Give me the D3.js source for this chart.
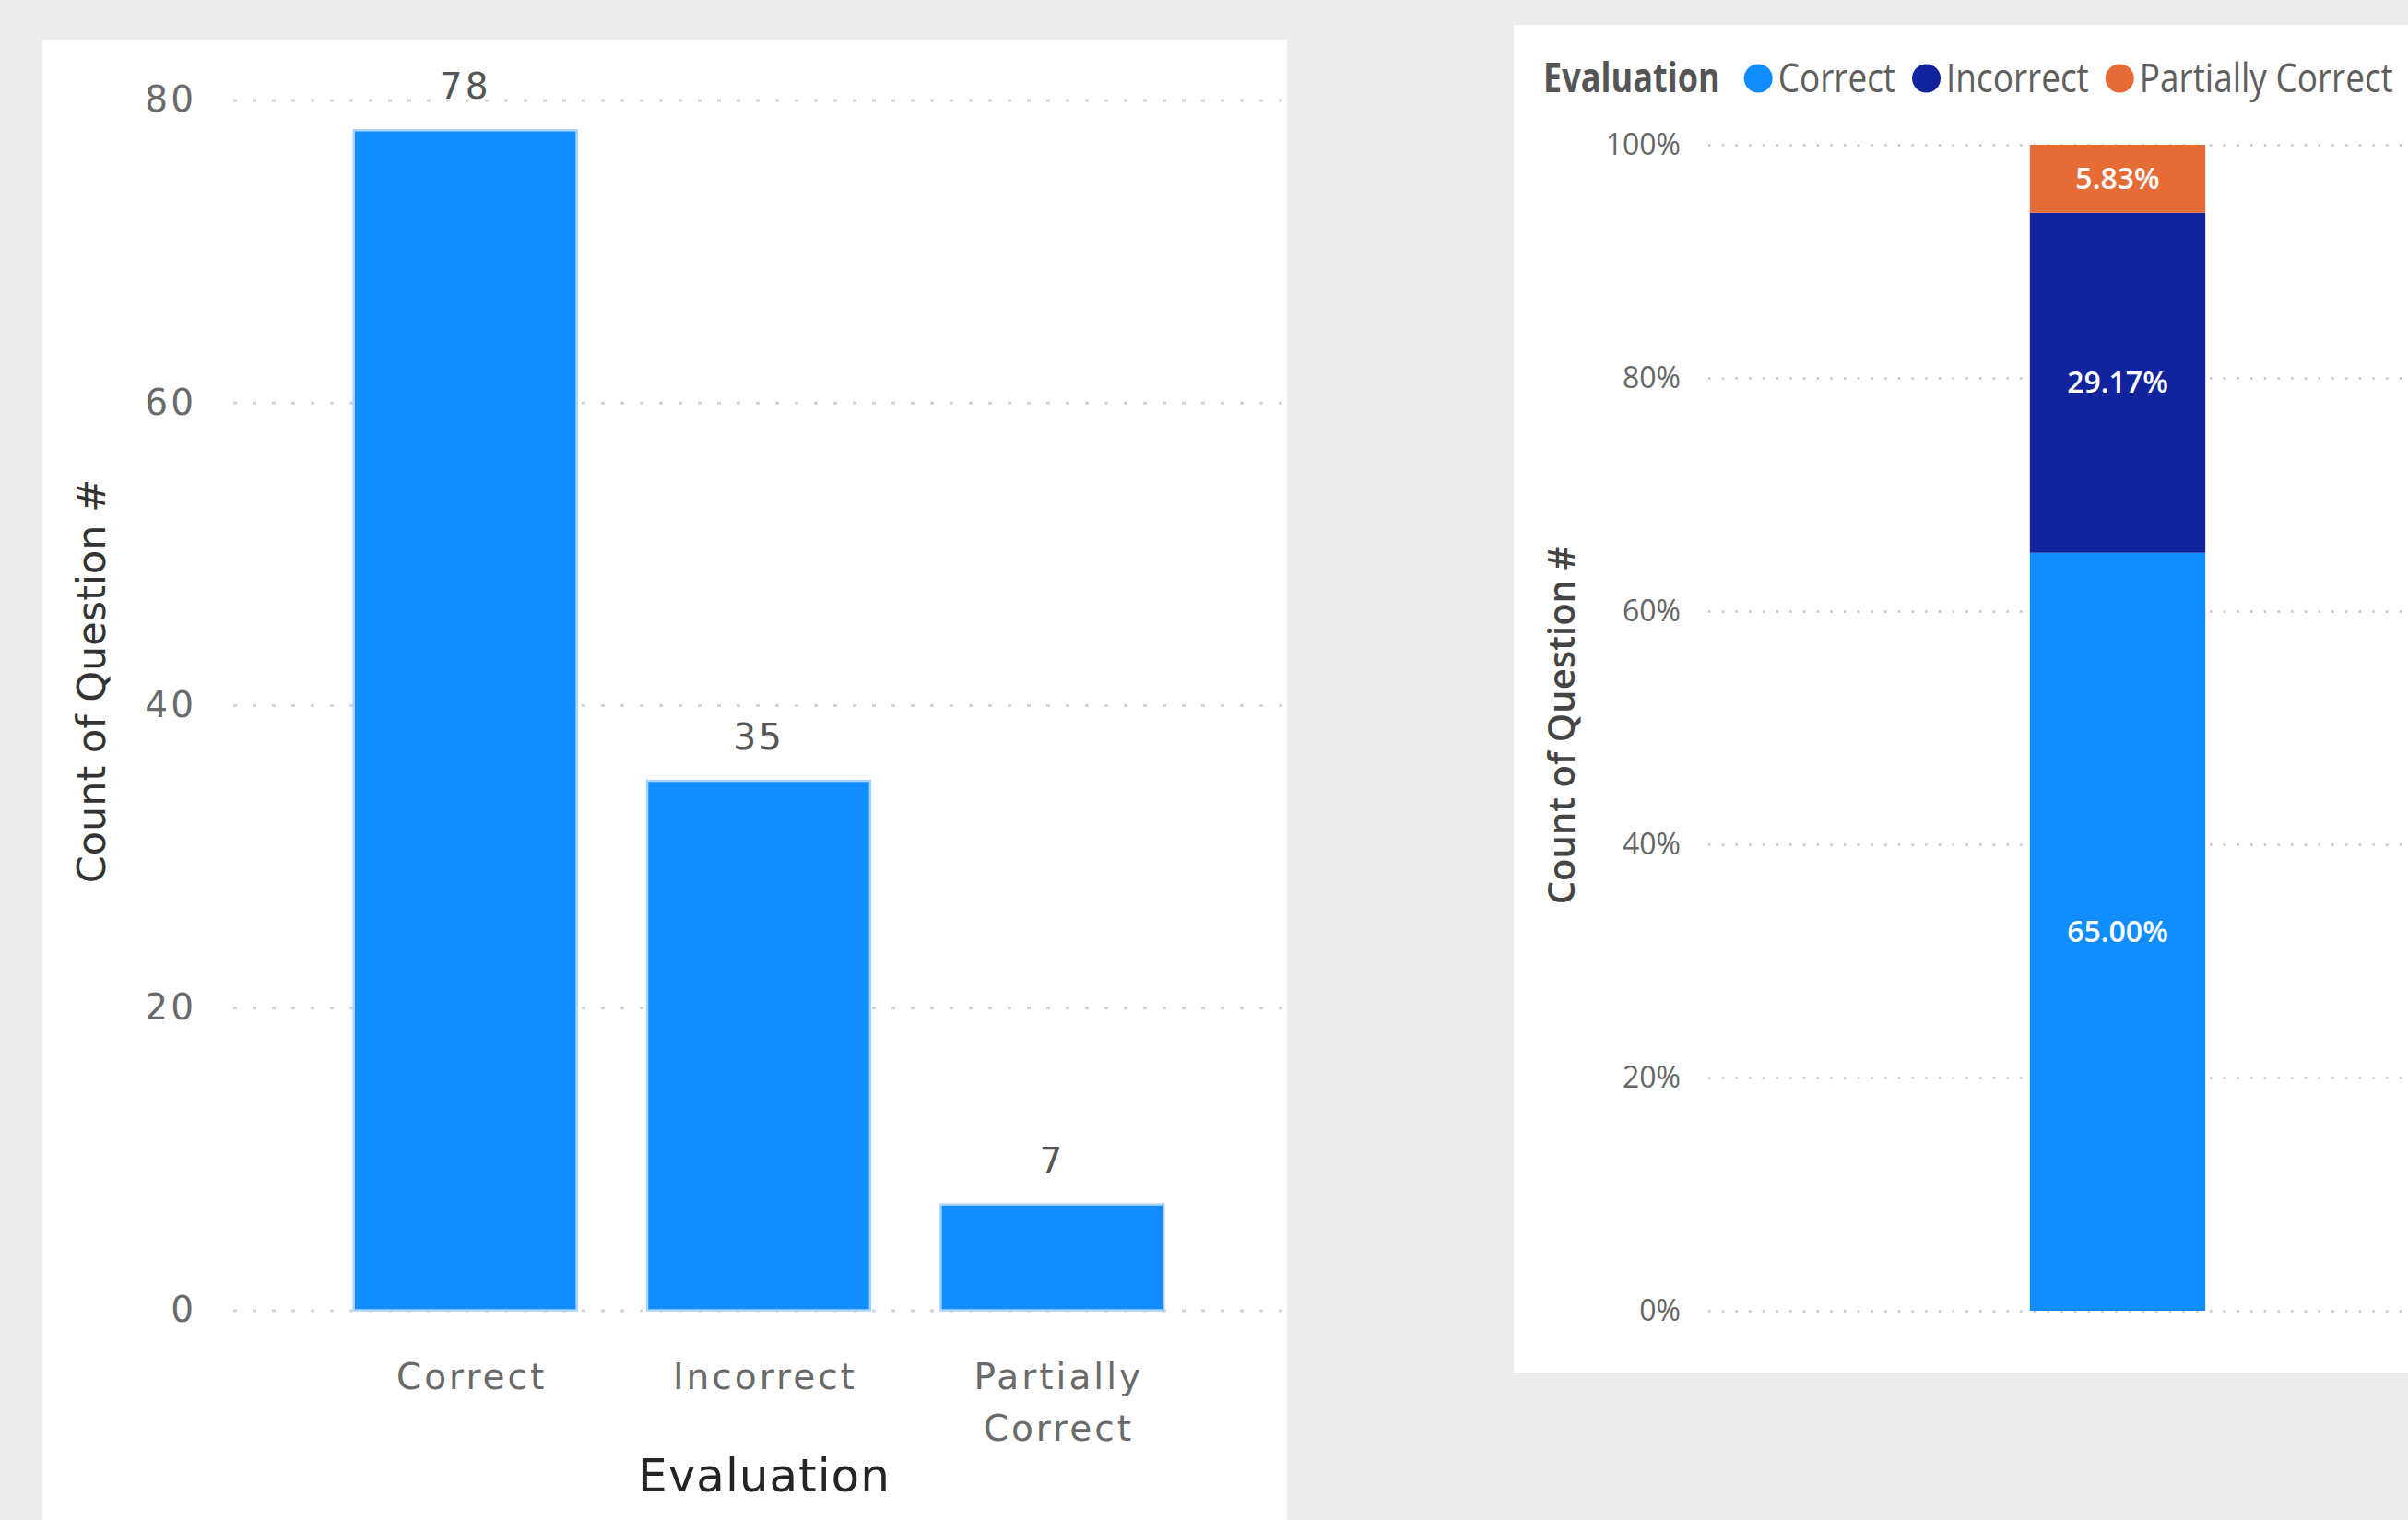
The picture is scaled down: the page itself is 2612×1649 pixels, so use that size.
<!DOCTYPE html>
<html>
<head>
<meta charset="utf-8">
<script src="https://cdn.jsdelivr.net/npm/d3@7"></script>
<style>
  body { margin: 0; background: #ECECEC; }
  svg { display: block; }
</style>
</head>
<body>
<script>
// Question Evaluation Dashboard: Count Bars + 100% Stacked Bar

// Data
const categories = ["Correct", "Incorrect", "Partially Correct"];
const counts = [78, 35, 7];
const countTicks = [0, 20, 40, 60, 80];
const shareTicks = [0, 0.2, 0.4, 0.6, 0.8, 1];
const colors = ["#118DFF", "#12239E", "#E66C37"];

// Space
const w = 2612;
const h = 1649;
const leftFont = "DejaVu Sans";
const rightFont = "Open Sans";

const svg = d3.select("body")
  .append("svg")
  .attr("width", w)
  .attr("height", h);

svg.append("rect").attr("width", w).attr("height", h).attr("fill", "#ECECEC");

// Panels
svg.append("rect").attr("x", 46).attr("y", 43).attr("width", 1350).attr("height", h - 43).attr("fill", "#fff");
svg.append("rect").attr("x", 1642).attr("y", 27).attr("width", w - 1642).attr("height", 1462).attr("fill", "#fff");

// ---------- Left Chart: Count of Question # by Evaluation ----------
const xLeft = d3.scaleBand()
  .domain(categories)
  .range([250, 1396])
  .paddingInner(0.24)
  .paddingOuter(0.42);

const yLeft = d3.scaleLinear()
  .domain([0, 80])
  .range([1421.5, 108.5]);

// Gridlines + Tick Labels
const leftAxis = d3.axisLeft(yLeft)
  .tickValues(countTicks)
  .tickSize(-(1396 - 253))
  .tickPadding(40);

const gLeftY = svg.append("g")
  .attr("transform", "translate(253,0)")
  .call(leftAxis);
gLeftY.select(".domain").remove();
gLeftY.selectAll(".tick line")
  .attr("stroke", "#d4d4d4")
  .attr("stroke-width", 3)
  .attr("stroke-dasharray", "4,17");
gLeftY.selectAll(".tick text")
  .attr("font-family", leftFont)
  .attr("font-size", 39)
  .attr("letter-spacing", 3)
  .attr("fill", "#6a6a6a");

// Bars
svg.append("g")
  .selectAll("rect")
  .data(categories)
  .join("rect")
  .attr("x", d => xLeft(d))
  .attr("y", (d, i) => yLeft(counts[i]))
  .attr("width", xLeft.bandwidth())
  .attr("height", (d, i) => yLeft(0) - yLeft(counts[i]))
  .attr("fill", colors[0])
  .attr("stroke", "#a9d4ff")
  .attr("stroke-width", 2.5);

// Value Labels
svg.append("g")
  .selectAll("text")
  .data(categories)
  .join("text")
  .attr("x", d => xLeft(d) + xLeft.bandwidth() / 2)
  .attr("y", (d, i) => yLeft(counts[i]) - 34)
  .attr("text-anchor", "middle")
  .attr("font-family", leftFont)
  .attr("font-size", 39)
  .attr("letter-spacing", 3)
  .attr("fill", "#555")
  .text((d, i) => counts[i]);

// Category Axis
const bottomAxis = d3.axisBottom(xLeft).tickSize(0);
const gLeftX = svg.append("g")
  .attr("transform", "translate(0," + yLeft(0) + ")")
  .call(bottomAxis);
gLeftX.select(".domain").remove();
gLeftX.selectAll(".tick text")
  .attr("font-family", leftFont)
  .attr("font-size", 39)
  .attr("letter-spacing", 3)
  .attr("fill", "#6a6a6a")
  .attr("x", 7)
  .attr("y", 85.5)
  .attr("dy", 0)
  .call(wrap, xLeft.bandwidth());

// Wrap Long Labels onto Two Lines
function wrap(sel, width) {
  sel.each(function () {
    const text = d3.select(this);
    if (this.getComputedTextLength() <= width) return;
    const words = text.text().split(" ");
    text.text(null);
    words.forEach((word, i) => {
      text.append("tspan")
        .attr("x", 7)
        .attr("dy", i === 0 ? 0 : 56)
        .text(word);
    });
  });
}

// Axis Titles
svg.append("text")
  .attr("x", xLeft("Incorrect") + xLeft.bandwidth() / 2 + 6)
  .attr("y", 1618)
  .attr("text-anchor", "middle")
  .attr("font-family", leftFont)
  .attr("font-size", 50)
  .attr("letter-spacing", 1)
  .attr("fill", "#252423")
  .text("Evaluation");

svg.append("text")
  .attr("transform", "translate(114,739) rotate(-90)")
  .attr("text-anchor", "middle")
  .attr("font-family", leftFont)
  .attr("font-size", 43)
  .attr("fill", "#333")
  .text("Count of Question #");

// ---------- Right Chart: 100% Stacked Share ----------
const total = d3.sum(counts);
const shareRow = {};
categories.forEach((c, i) => { shareRow[c] = counts[i] / total; });
const stacked = d3.stack().keys(categories)([shareRow]);

const xRight = d3.scaleBand()
  .domain(["All"])
  .range([1853, 2741])
  .padding(0.647);

const yRight = d3.scaleLinear()
  .domain([0, 1])
  .range([1422, 157]);

const rightAxis = d3.axisLeft(yRight)
  .tickValues(shareTicks)
  .tickFormat(d3.format(".0%"))
  .tickSize(-(w - 1853))
  .tickPadding(30);

const gRightY = svg.append("g")
  .attr("transform", "translate(1853,0)")
  .call(rightAxis);
gRightY.select(".domain").remove();
gRightY.selectAll(".tick line")
  .attr("stroke", "#c4c4c4")
  .attr("stroke-width", 2.5)
  .attr("stroke-dasharray", "2.5,12.2");
gRightY.selectAll(".tick text")
  .attr("font-family", rightFont)
  .attr("font-size", 32)
  .attr("fill", "#666");

// Stacked Segments
svg.append("g")
  .selectAll("rect")
  .data(stacked)
  .join("rect")
  .attr("x", xRight("All"))
  .attr("y", d => yRight(d[0][1]))
  .attr("width", xRight.bandwidth())
  .attr("height", d => yRight(d[0][0]) - yRight(d[0][1]))
  .attr("fill", (d, i) => colors[i]);

// Segment Labels
svg.append("g")
  .selectAll("text")
  .data(stacked)
  .join("text")
  .attr("x", xRight("All") + xRight.bandwidth() / 2)
  .attr("y", d => (yRight(d[0][0]) + yRight(d[0][1])) / 2)
  .attr("dy", "0.35em")
  .attr("text-anchor", "middle")
  .attr("font-family", rightFont)
  .attr("font-size", 32)
  .attr("font-weight", 600)
  .attr("fill", "#fff")
  .text(d => d3.format(".2%")(d[0][1] - d[0][0]));

// Y Title
svg.append("text")
  .attr("transform", "translate(1708,787) rotate(-90)")
  .attr("text-anchor", "middle")
  .attr("font-family", rightFont)
  .attr("font-size", 40)
  .attr("font-weight", 600)
  .attr("fill", "#444")
  .text("Count of Question #");

// Legend
const squeeze = 0.84;
const legend = svg.append("g").attr("font-family", rightFont).attr("font-size", 44);
let cx = 1674;
const legendTitle = legend.append("text")
  .attr("transform", `translate(${cx},100) scale(0.82,1)`)
  .attr("font-weight", 700)
  .attr("fill", "#555")
  .text("Evaluation");
cx += legendTitle.node().getComputedTextLength() * 0.82 + 26;
categories.forEach((c, i) => {
  legend.append("circle")
    .attr("cx", cx + 15.5)
    .attr("cy", 85)
    .attr("r", 15.5)
    .attr("fill", colors[i]);
  cx += 31 + 6;
  const t = legend.append("text")
    .attr("transform", `translate(${cx},100) scale(${squeeze},1)`)
    .attr("fill", "#605E5C")
    .text(c);
  cx += t.node().getComputedTextLength() * squeeze + 18;
});
</script>
</body>
</html>
